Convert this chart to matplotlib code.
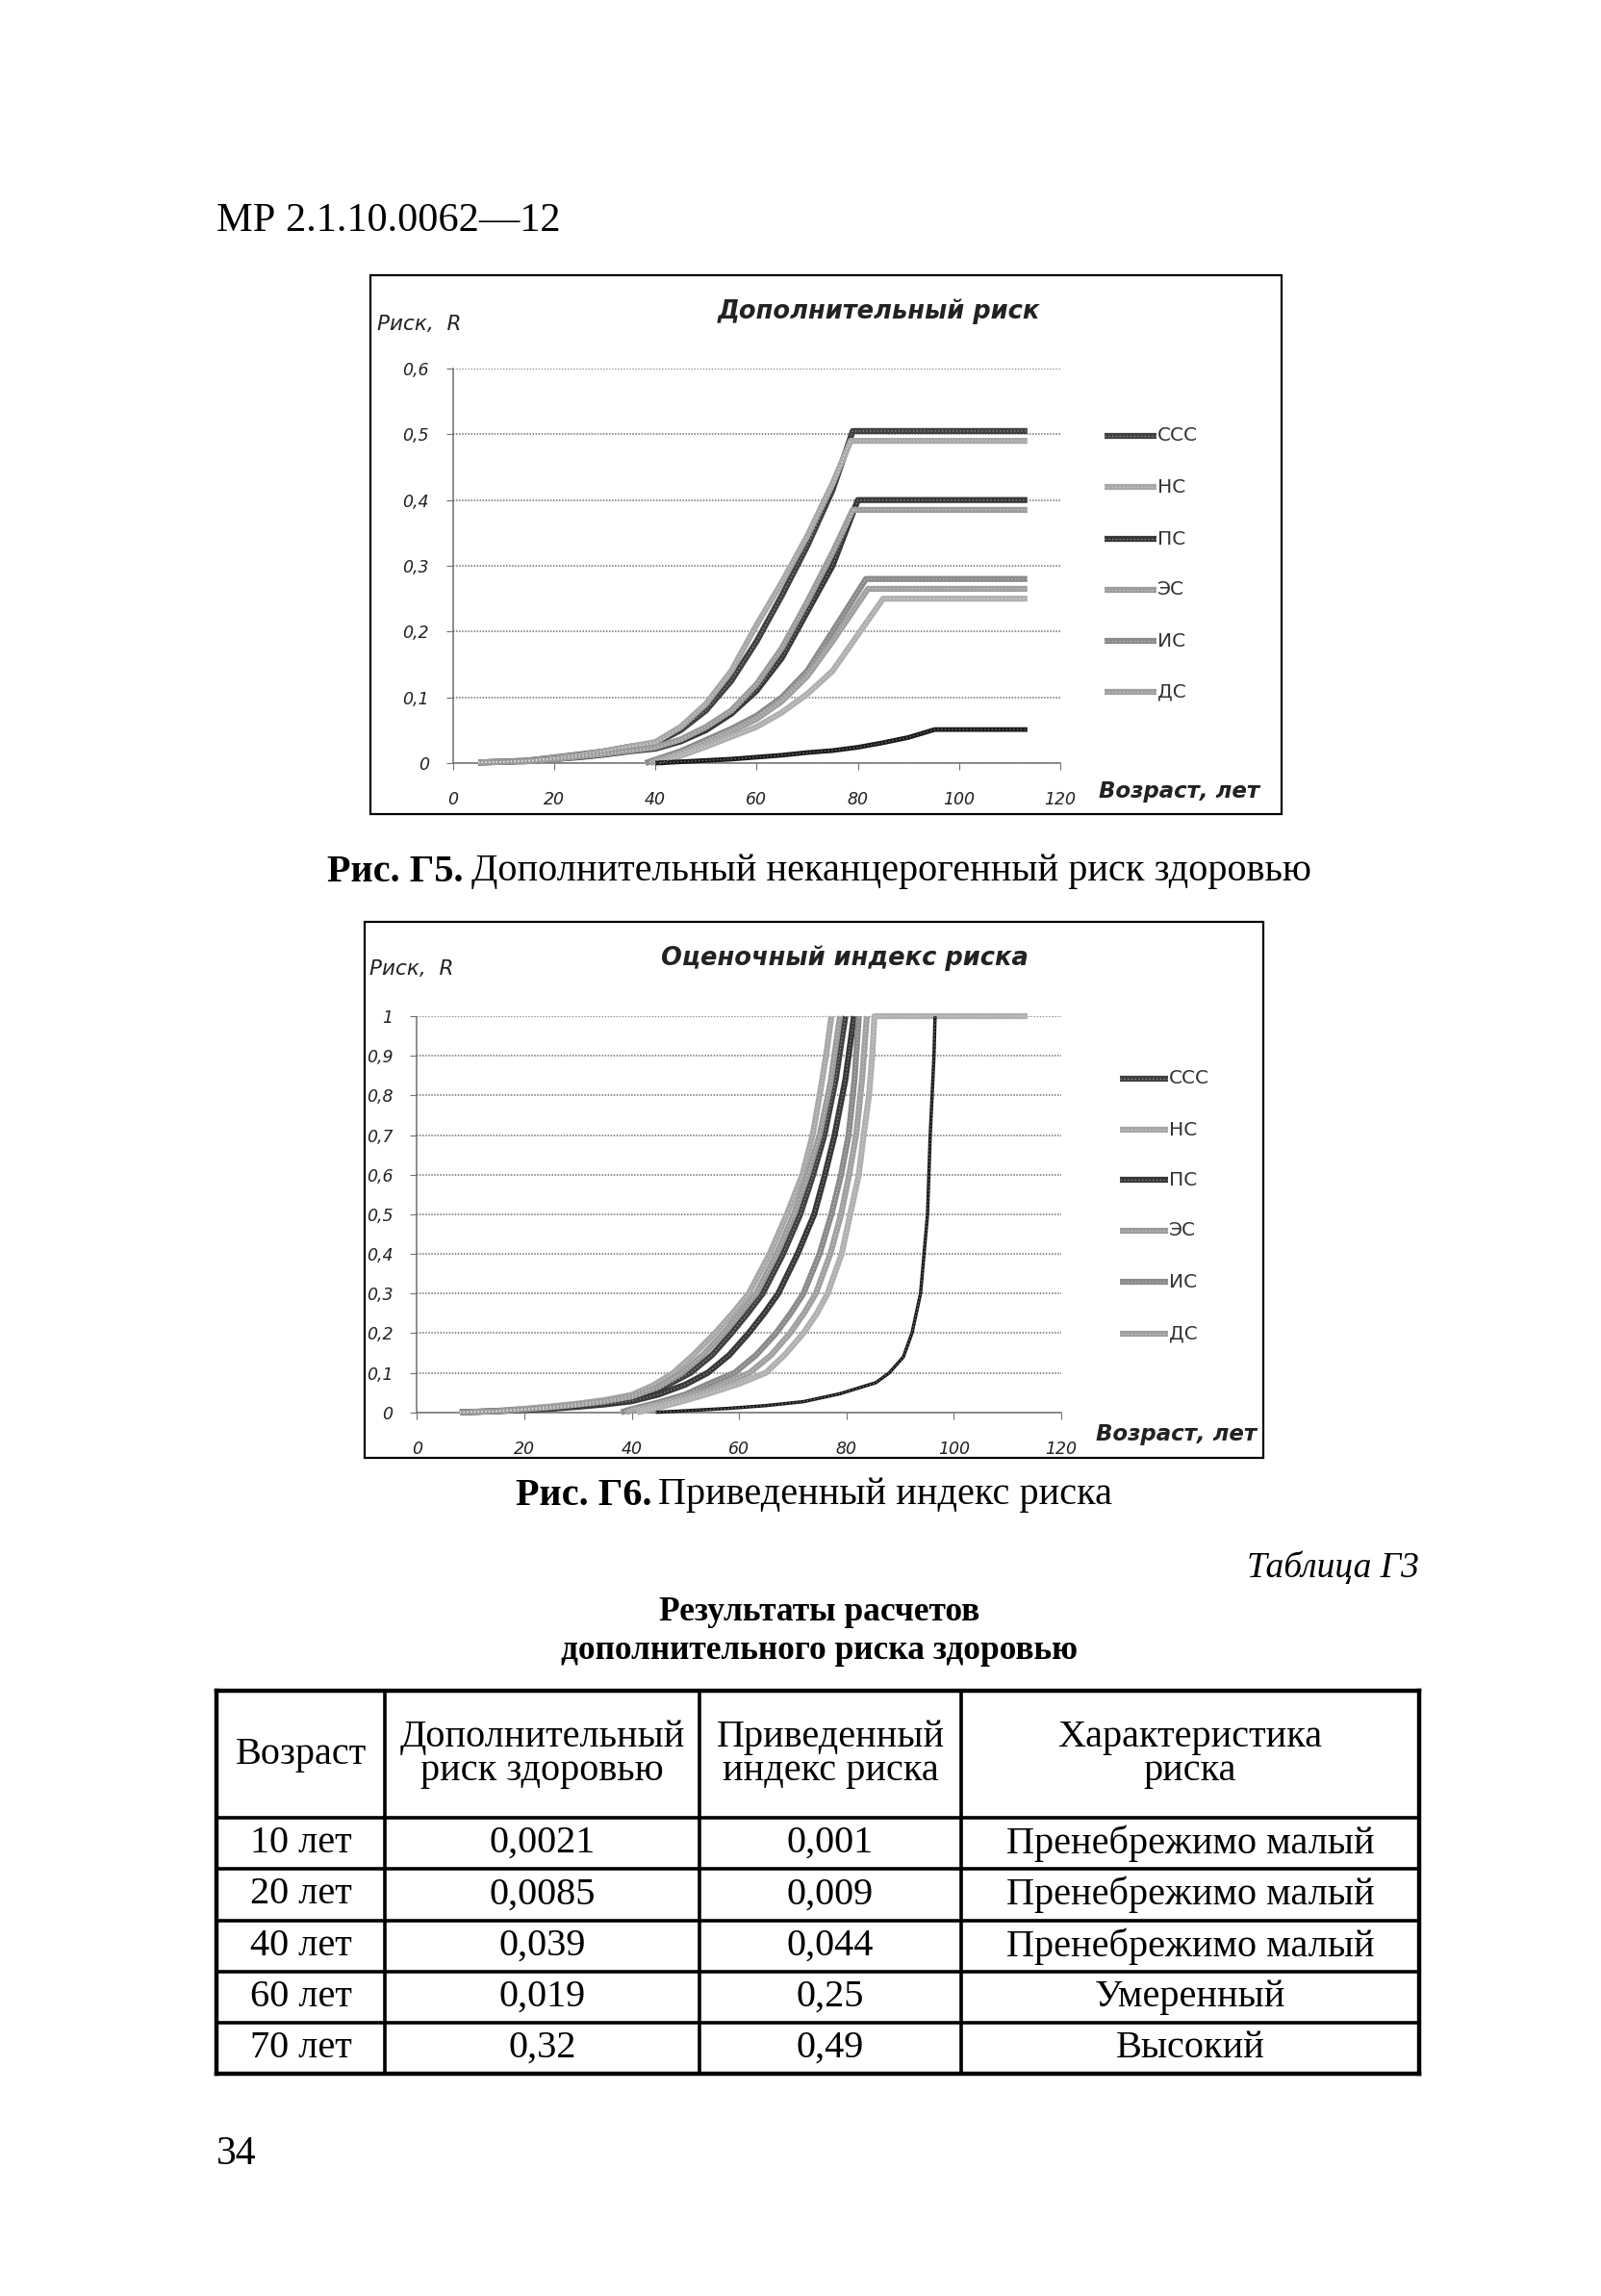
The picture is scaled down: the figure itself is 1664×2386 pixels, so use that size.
import matplotlib
matplotlib.use("Agg")
import matplotlib.pyplot as plt
from matplotlib.patches import Rectangle

W, H = 1664, 2386
SERIF = ["Liberation Serif", "DejaVu Serif"]
SANS = ["DejaVu Sans"]

# ---- data ----
legend_names = ["ССС", "НС", "ПС", "ЭС", "ИС", "ДС"]

# Fig. G5 - additional risk
r_a_x = [5, 10, 15, 20, 25, 30, 35, 40, 45, 50, 55, 60, 65, 70, 75, 79, 113.5]
r_a_y = [0.001, 0.002, 0.004, 0.0085, 0.013, 0.018, 0.025, 0.03, 0.05, 0.08, 0.125, 0.185, 0.255, 0.33, 0.415, 0.505, 0.505]
r_b_x = [5, 10, 15, 20, 25, 30, 35, 40, 45, 50, 55, 60, 65, 70, 75, 78.6, 113.5]
r_b_y = [0.001, 0.002, 0.004, 0.008, 0.012, 0.018, 0.025, 0.032, 0.055, 0.09, 0.14, 0.21, 0.275, 0.345, 0.425, 0.49, 0.49]
r_c_x = [5, 10, 15, 20, 25, 30, 35, 40, 45, 50, 55, 60, 65, 70, 75, 80, 113.5]
r_c_y = [0.001, 0.002, 0.003, 0.006, 0.009, 0.013, 0.018, 0.022, 0.033, 0.05, 0.075, 0.11, 0.16, 0.23, 0.30, 0.40, 0.40]
r_d_x = [5, 10, 15, 20, 25, 30, 35, 40, 45, 50, 55, 60, 65, 70, 75, 79, 113.5]
r_d_y = [0.001, 0.002, 0.003, 0.006, 0.01, 0.014, 0.019, 0.024, 0.036, 0.055, 0.08, 0.12, 0.175, 0.245, 0.32, 0.385, 0.385]
r_e_x = [38, 40, 45, 50, 55, 60, 65, 70, 75, 81.6, 113.5]
r_e_y = [0.0, 0.005, 0.018, 0.035, 0.052, 0.072, 0.10, 0.14, 0.20, 0.28, 0.28]
r_f_x = [39, 40, 45, 50, 55, 60, 65, 70, 75, 82, 113.5]
r_f_y = [0.0, 0.003, 0.015, 0.031, 0.048, 0.067, 0.094, 0.132, 0.185, 0.265, 0.265]
r_g_x = [41, 45, 50, 55, 60, 65, 70, 75, 80, 85, 113.5]
r_g_y = [0.0, 0.011, 0.025, 0.04, 0.055, 0.077, 0.105, 0.14, 0.195, 0.25, 0.25]
r_h_x = [40, 45, 50, 55, 60, 65, 70, 75, 80, 85, 90, 95.2, 113.5]
r_h_y = [0.0, 0.002, 0.004, 0.006, 0.009, 0.012, 0.016, 0.019, 0.024, 0.031, 0.039, 0.051, 0.051]

# Fig. G6 - reduced risk index
i_a_x = [8, 15, 20, 25, 30, 35, 40, 44, 47.8, 51.5, 55.5, 58.8, 61.8, 65.7, 68.9, 71.8, 73.7, 75, 76.2, 77.2]
i_a_y = [0, 0.004, 0.009, 0.015, 0.022, 0.031, 0.044, 0.068, 0.1, 0.145, 0.2, 0.25, 0.3, 0.4, 0.5, 0.6, 0.7, 0.8, 0.9, 1.0]
i_b_x = [8, 15, 20, 25, 30, 35, 40, 45, 49.4, 53.3, 57.1, 60.2, 63.2, 67, 70.2, 72.8, 75, 77, 78.8]
i_b_y = [0, 0.003, 0.008, 0.013, 0.02, 0.028, 0.04, 0.065, 0.1, 0.145, 0.2, 0.25, 0.3, 0.4, 0.5, 0.6, 0.7, 0.83, 1.0]
i_c_x = [8, 15, 20, 25, 30, 35, 40, 45, 51, 55, 58.6, 61.6, 64.4, 68.2, 71.4, 73.8, 75.9, 78, 79.8]
i_c_y = [0, 0.003, 0.007, 0.011, 0.017, 0.025, 0.035, 0.057, 0.1, 0.145, 0.2, 0.25, 0.3, 0.4, 0.5, 0.6, 0.7, 0.84, 1.0]
i_d_x = [8, 15, 20, 25, 30, 35, 40, 45, 50, 54.2, 58.2, 61.8, 64.7, 67.3, 70.9, 74, 76, 77.8, 79.8, 81.4]
i_d_y = [0, 0.003, 0.006, 0.009, 0.014, 0.02, 0.028, 0.045, 0.07, 0.1, 0.145, 0.2, 0.25, 0.3, 0.4, 0.5, 0.6, 0.7, 0.84, 1.0]
i_e_x = [38, 40, 45, 50, 54, 59.2, 63.2, 66.9, 69.6, 72, 75, 77.2, 79, 80.4, 81.5, 82.3]
i_e_y = [0, 0.008, 0.025, 0.045, 0.07, 0.1, 0.145, 0.2, 0.25, 0.3, 0.4, 0.5, 0.6, 0.7, 0.84, 1.0]
i_f_x = [39, 40, 45, 50, 55, 62, 66, 69.5, 72.1, 74.3, 77, 79, 80.5, 81.8, 82.9, 83.8]
i_f_y = [0, 0.005, 0.02, 0.038, 0.06, 0.1, 0.145, 0.2, 0.25, 0.3, 0.4, 0.5, 0.6, 0.7, 0.84, 1.0]
i_g_x = [41, 45, 50, 55, 60, 65, 68.5, 72, 74.5, 76.5, 79.1, 80.7, 82.3, 83.2, 84.2, 84.8, 85.2, 113.7]
i_g_y = [0, 0.012, 0.03, 0.05, 0.072, 0.1, 0.145, 0.2, 0.25, 0.3, 0.4, 0.5, 0.6, 0.7, 0.8, 0.9, 1.0, 1.0]
i_h_x = [44.5, 50, 58, 65, 72, 78.8, 85.5, 88, 90.6, 92.2, 93.8, 95.1, 95.6, 96.3, 96.5]
i_h_y = [0, 0.004, 0.01, 0.017, 0.027, 0.047, 0.075, 0.1, 0.14, 0.2, 0.3, 0.5, 0.7, 0.9, 1.0]

risk_curves = [(r_a_x, r_a_y), (r_b_x, r_b_y), (r_c_x, r_c_y), (r_d_x, r_d_y),
               (r_e_x, r_e_y), (r_f_x, r_f_y), (r_g_x, r_g_y), (r_h_x, r_h_y)]
index_curves = [(i_c_x, i_c_y), (i_a_x, i_a_y), (i_d_x, i_d_y), (i_b_x, i_b_y),
                (i_e_x, i_e_y), (i_f_x, i_f_y), (i_g_x, i_g_y), (i_h_x, i_h_y)]

# table G3
tbl_head = ["Возраст", "Дополнительный\nриск здоровью", "Приведенный\nиндекс риска", "Характеристика\nриска"]
tbl_age = ["10 лет", "20 лет", "40 лет", "60 лет", "70 лет"]
tbl_risk = ["0,0021", "0,0085", "0,039", "0,019", "0,32"]
tbl_index = ["0,001", "0,009", "0,044", "0,25", "0,49"]
tbl_char = ["Пренебрежимо малый", "Пренебрежимо малый", "Пренебрежимо малый", "Умеренный", "Высокий"]

# line styles: colour, width
styles = [("#404040", 4.5), ("#a8a8a8", 4.5), ("#383838", 4.5), ("#9c9c9c", 4.5),
          ("#8a8a8a", 4.5), ("#a0a0a0", 4.5), ("#b0b0b0", 4.5), ("#1a1a1a", 3.5)]
GRID = "#707070"

fig = plt.figure(figsize=(W / 100, H / 100), dpi=100)
fig.patch.set_facecolor("white")
pg = fig.add_axes([0, 0, 1, 1], zorder=0)
pg.set_xlim(0, W); pg.set_ylim(H, 0); pg.axis("off")


def chart(x0, x1, y0, y1, ymax, yticks, ylabels, curves, dark_last_lw):
    ax = fig.add_axes([x0 / W, 1 - y0 / H, (x1 - x0) / W, (y0 - y1) / H], zorder=2)
    ax.set_facecolor("none")
    for i, (xs, ys) in enumerate(curves):
        c, lw = styles[i]
        if i == len(curves) - 1:
            lw = dark_last_lw
        ax.plot(xs, ys, color=c, lw=lw, solid_capstyle="butt", zorder=3, clip_on=False)
        ax.plot(xs, ys, color="white", lw=0.9, ls=(0, (1, 2)), alpha=0.45, zorder=4, clip_on=False)
    ax.set_xlim(0, 120); ax.set_ylim(0, ymax)
    ax.set_xticks(range(0, 121, 20))
    ax.set_yticks(yticks)
    ax.set_yticklabels(ylabels)
    ax.grid(axis="y", color=GRID, lw=1.1, ls=(0, (1, 1)))
    ax.set_axisbelow(True)
    for s in ("top", "right"):
        ax.spines[s].set_visible(False)
    for s in ("left", "bottom"):
        ax.spines[s].set_color(GRID); ax.spines[s].set_linewidth(1.1)
        ax.spines[s].set_linestyle((0, (1, 1)))
    ax.tick_params(axis="x", length=5, color=GRID, pad=16, labelsize=12.5)
    ax.tick_params(axis="y", length=5, color=GRID, pad=13, labelsize=12.5)
    for t in ax.get_xticklabels() + ax.get_yticklabels():
        t.set_fontstyle("italic"); t.set_color("#222222")
    return ax


def legend(x0, x1, ys):
    for i, (name, ly) in enumerate(zip(legend_names, ys)):
        c, lw = styles[i]
        pg.plot([x0, x1], [ly, ly], color=c, lw=lw, solid_capstyle="butt")
        pg.plot([x0, x1], [ly, ly], color="white", lw=0.9, ls=(0, (1, 2)), alpha=0.45)
        pg.text(x1 + 1, ly, name, family=SANS, fontsize=14.5, ha="left", va="center", color="#333333")


# header
pg.text(225, 230, "МР 2.1.10.0062—12", family=SERIF, fontsize=30.5, va="center", ha="left")

# ---- chart 1 ----
pg.add_patch(Rectangle((385, 286), 947, 560, fill=False, ec="black", lw=1.6))
chart(470.7, 1102, 793, 383, 0.6, [0, 0.1, 0.2, 0.3, 0.4, 0.5, 0.6],
      ["0", "0,1", "0,2", "0,3", "0,4", "0,5", "0,6"], risk_curves, 3.5)
pg.text(913, 324, "Дополнительный риск", family=SANS, fontsize=18.5, fontweight="bold",
        fontstyle="italic", ha="center", va="center", color="#222222")
pg.text(392, 337, "Риск,  R", family=SANS, fontsize=15.5, fontstyle="italic",
        ha="left", va="center", color="#222222")
pg.text(1142, 823, "Возраст, лет", family=SANS, fontsize=16.5, fontweight="bold",
        fontstyle="italic", ha="left", va="center", color="#222222")
legend(1148, 1202, [453, 506, 560, 613, 666, 719])

pg.text(482, 906, "Рис. Г5.", family=SERIF, fontsize=29, fontweight="bold", ha="right", va="center")
pg.text(490, 906, "Дополнительный неканцерогенный риск здоровью", family=SERIF, fontsize=29,
        ha="left", va="center")

# ---- chart 2 ----
pg.add_patch(Rectangle((379, 958), 934, 557, fill=False, ec="black", lw=1.6))
chart(433.3, 1103, 1467.7, 1056, 1.0, [0, 0.1, 0.2, 0.3, 0.4, 0.5, 0.6, 0.7, 0.8, 0.9, 1.0],
      ["0", "0,1", "0,2", "0,3", "0,4", "0,5", "0,6", "0,7", "0,8", "0,9", "1"],
      index_curves, 2.5)
pg.text(878, 996, "Оценочный индекс риска", family=SANS, fontsize=18.5, fontweight="bold",
        fontstyle="italic", ha="center", va="center", color="#222222")
pg.text(384, 1007, "Риск,  R", family=SANS, fontsize=15.5, fontstyle="italic",
        ha="left", va="center", color="#222222")
pg.text(1139, 1491, "Возраст, лет", family=SANS, fontsize=16.5, fontweight="bold",
        fontstyle="italic", ha="left", va="center", color="#222222")
legend(1164, 1214, [1121, 1174, 1226, 1279, 1332, 1386])

pg.text(677, 1554, "Рис. Г6.", family=SERIF, fontsize=29, fontweight="bold", ha="right", va="center")
pg.text(684, 1554, "Приведенный индекс риска", family=SERIF, fontsize=29, ha="left", va="center")

# ---- table ----
pg.text(1475, 1630, "Таблица Г3", family=SERIF, fontsize=27, fontstyle="italic", ha="right", va="center")
pg.text(852, 1675, "Результаты расчетов", family=SERIF, fontsize=25.5, fontweight="bold",
        ha="center", va="center")
pg.text(852, 1716, "дополнительного риска здоровью", family=SERIF, fontsize=25.5, fontweight="bold",
        ha="center", va="center")

cols = [225, 400, 727, 999, 1475]
rows = [1757, 1889, 1942, 1996, 2049, 2102, 2155]
for k, xv in enumerate(cols):
    lw = 3.2 if k in (0, len(cols) - 1) else 2.6
    pg.plot([xv, xv], [rows[0], rows[-1]], color="black", lw=lw, solid_capstyle="projecting")
for k, yv in enumerate(rows):
    lw = 3.2 if k in (0, len(rows) - 1) else 2.6
    pg.plot([cols[0], cols[-1]], [yv, yv], color="black", lw=lw, solid_capstyle="projecting")

for j, txt in enumerate(tbl_head):
    pg.text((cols[j] + cols[j + 1]) / 2, (rows[0] + rows[1]) / 2, txt, family=SERIF, fontsize=29,
            ha="center", va="center", linespacing=0.95)
for r in range(len(tbl_age)):
    yc = (rows[r + 1] + rows[r + 2]) / 2
    for j, val in enumerate([tbl_age[r], tbl_risk[r], tbl_index[r], tbl_char[r]]):
        pg.text((cols[j] + cols[j + 1]) / 2, yc, val, family=SERIF, fontsize=29,
                ha="center", va="center")

pg.text(225, 2239, "34", family=SERIF, fontsize=30, ha="left", va="center")

fig.savefig("out.png", dpi=100, facecolor="white")
plt.close(fig)
